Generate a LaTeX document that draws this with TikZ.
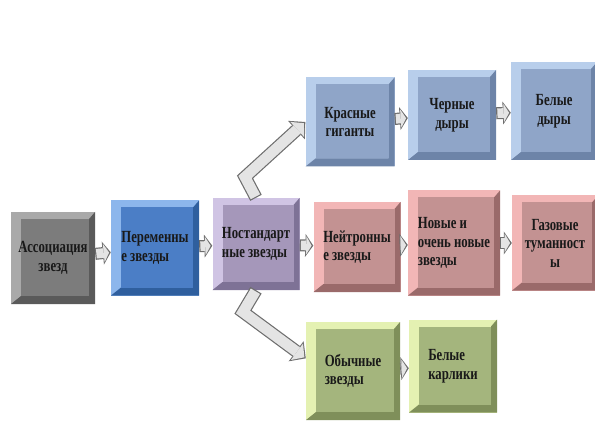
\documentclass[tikz,border=0pt]{standalone}
\usepackage{fontspec}
\newfontfamily\boxfont[FakeStretch=0.75]{Liberation Serif}
\usetikzlibrary{arrows.meta}

\definecolor{arrowline}{HTML}{6E6E6E}
\definecolor{arrowfill}{HTML}{E4E4E4}
\definecolor{grayrim}{HTML}{A9A9A9}   \definecolor{grayface}{HTML}{7C7C7C}  \definecolor{graydark}{HTML}{5A5A5A}
\definecolor{varrim}{HTML}{8CB6EC}    \definecolor{varface}{HTML}{4B7EC6}   \definecolor{vardark}{HTML}{2F5F9E}
\definecolor{lilacrim}{HTML}{D0C4E4}  \definecolor{lilacface}{HTML}{A597BA} \definecolor{lilacdark}{HTML}{7E7296}
\definecolor{bluerim}{HTML}{B8CEEB}   \definecolor{blueface}{HTML}{8FA5C8}  \definecolor{bluedark}{HTML}{6D84A8}
\definecolor{pinkrim}{HTML}{F2B6B6}   \definecolor{pinkface}{HTML}{C39292}  \definecolor{pinkdark}{HTML}{9A6A6A}
\definecolor{greenrim}{HTML}{E4F1B2}  \definecolor{greenface}{HTML}{A4B57D} \definecolor{greendark}{HTML}{7F8F5A}

\tikzset{
  % bevelled box: light rim, face, dark rim
  starbox/.style n args={3}{
    rectangle, fill=#1, inner sep=2pt, text=black!90,
    minimum width=87pt, minimum height=93pt,
    font=\boxfont\bfseries\fontsize{17}{18.5}\selectfont,
    path picture={
      \fill[#3] (path picture bounding box.north east)
        -- (path picture bounding box.south east)
        -- (path picture bounding box.south west)
        -- ([xshift=10pt,yshift=8pt]path picture bounding box.south west)
        -- ([xshift=-6pt,yshift=8pt]path picture bounding box.south east)
        -- ([xshift=-6pt,yshift=-7pt]path picture bounding box.north east)
        -- cycle;
      \fill[#2] ([xshift=10pt,yshift=-7pt]path picture bounding box.north west)
        rectangle ([xshift=-6pt,yshift=8pt]path picture bounding box.south east);
    }},
  graybox/.style   = {starbox={grayrim}{grayface}{graydark}},
  varbox/.style    = {starbox={varrim}{varface}{vardark}},
  lilacbox/.style  = {starbox={lilacrim}{lilacface}{lilacdark}},
  bluebox/.style   = {starbox={bluerim}{blueface}{bluedark}},
  pinkbox/.style   = {starbox={pinkrim}{pinkface}{pinkdark}},
  greenbox/.style  = {starbox={greenrim}{greenface}{greendark}},
  % block arrows
  flow/.style = {draw=arrowline, line width=12pt,
    -{Triangle[length=8pt,width=23pt,line width=0pt]},
    postaction={draw=arrowfill, line width=9.6pt,
      shorten <=1.2pt, shorten >=1.7pt,
      -{Triangle[length=5.4pt,width=18.4pt,line width=0pt]}}},
  bigflow/.style = {draw=arrowline, line width=13pt, line join=miter,
    -{Triangle[length=12pt,width=25pt,line width=0pt]},
    postaction={draw=arrowfill, line width=10.6pt, line join=miter,
      shorten <=1.2pt, shorten >=1.8pt,
      -{Triangle[length=9.2pt,width=20.4pt,line width=0pt]}}}
}

\begin{document}
\begin{tikzpicture}[x=1pt, y=-1pt]
\useasboundingbox (0,0) rectangle (595,425);

% main row
\node[graybox , minimum width=84pt, minimum height=92pt, align=center] (assoc) at (53,258)  {Ассоциация\\звезд};
\node[varbox  , minimum width=88pt, minimum height=95pt, align=left]   (var)   at (155,248) {Переменны\\е звезды};
\node[lilacbox, minimum width=87pt, minimum height=92pt, align=left]   (nost)  at (256,244) {Ностандарт\\ные звезды};

% upper row
\node[bluebox, minimum width=89pt, minimum height=89pt, align=center] (giant) at (350,122) {Красные\\гиганты};
\node[bluebox, minimum width=88pt, minimum height=90pt, align=center] (black) at (452,115) {Черные\\дыры};
\node[bluebox, minimum width=86pt, minimum height=98pt, align=center] (whole) at (554,111) {Белые\\дыры};

% middle row
\node[pinkbox, minimum width=87pt, minimum height=90pt,  align=left]   (neutr) at (357,247) {Нейтронны\\е звезды};
\node[pinkbox, minimum width=92pt, minimum height=105pt, align=left]   (novae) at (454,243) {Новые и\\очень новые\\звезды};
\node[pinkbox, minimum width=86pt, minimum height=95pt,  align=center] (gas)   at (555,243) {Газовые\\туманност\\ы};

% lower row
\node[greenbox, minimum width=94pt, minimum height=98pt, align=left] (ord)   at (353,371) {Обычные\\звезды};
\node[greenbox, minimum width=88pt, minimum height=93pt, align=left] (dwarf) at (453,366) {Белые\\карлики};

\coordinate (upbend)  at (245,177);
\coordinate (lowbend) at (243,312);

\draw[flow] (assoc) -- (var);
\draw[flow] (var)   -- (nost);
\draw[flow] (nost)  -- (neutr);
\draw[flow] (neutr) -- (novae);
\draw[flow] (novae) -- (gas);
\draw[flow] (giant) -- (black);
\draw[flow] (black) -- (whole);
\draw[flow] (ord)   -- (dwarf);

\draw[bigflow] (nost.north) -- (upbend)  -- (giant.west);
\draw[bigflow] (nost.south) -- (lowbend) -- (ord.165);

\end{tikzpicture}
\end{document}
